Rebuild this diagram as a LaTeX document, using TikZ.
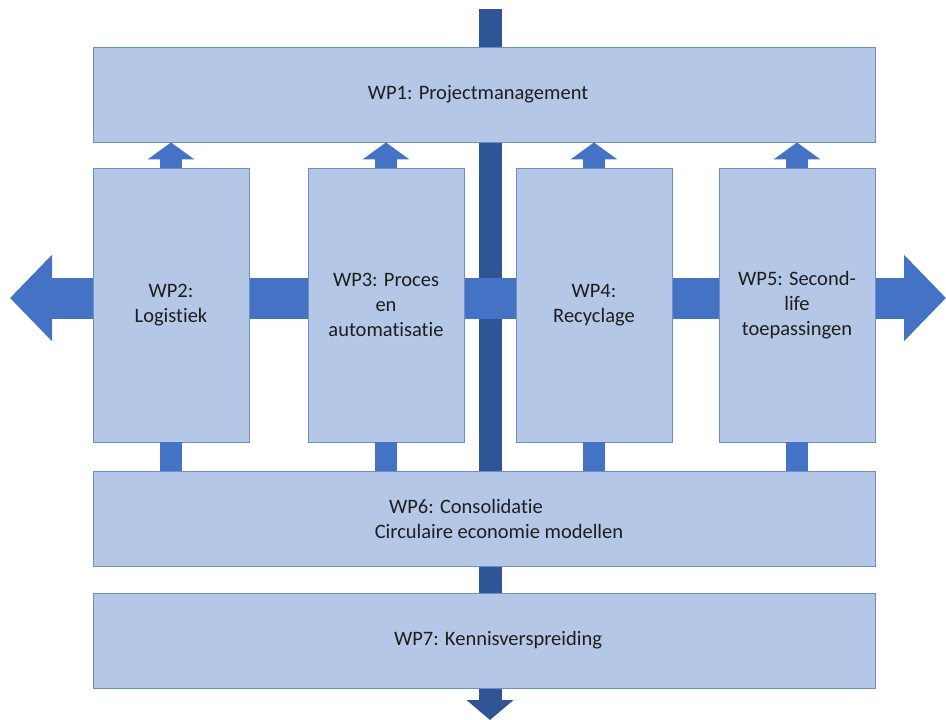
\documentclass[tikz,border=0pt]{standalone}
\usepackage{fontspec}
\setmainfont{Carlito}[RawFeature={-liga;-clig;-dlig}]
\usetikzlibrary{arrows.meta}
\definecolor{boxfill}{HTML}{B4C7E7}
\definecolor{boxline}{HTML}{6F8DC6}
\definecolor{midblue}{HTML}{4472C4}
\definecolor{darkblue}{HTML}{2F5597}
\definecolor{txt}{HTML}{1E1E1E}

\begin{document}
\begin{tikzpicture}[x=1pt,y=-1pt,
  wp/.style={draw=boxline,line width=0.9pt,fill=boxfill,text=txt,
    font=\fontsize{20.5}{25}\selectfont,align=center,inner sep=0pt},
  widebox/.style={wp,minimum width=782pt,minimum height=95pt},
  tallbox/.style={wp,minimum width=156pt,minimum height=274pt},
  spine/.style={draw=darkblue,line width=23pt,-{Triangle[width=46pt,length=20pt]}},
  crossbar/.style={draw=midblue,line width=41pt,
    {Triangle[width=84pt,length=42pt]}-{Triangle[width=84pt,length=42pt]}},
  uparrow/.style={draw=midblue,line width=22pt,-{Triangle[width=46pt,length=17pt]}},
  stub/.style={draw=midblue,line width=22pt}]
  \useasboundingbox (0,0) rectangle (946,720);
  % backbone and cross arrow
  \coordinate (top) at (490,9);
  \coordinate (bottom) at (490,720);
  \coordinate (west) at (10,298);
  \coordinate (east) at (946,298);
  \draw[spine] (top) -- (bottom);
  \draw[crossbar] (west) -- (east);
  % work packages
  \node[widebox] (wp1) at (484,94.5) {\hspace*{-12pt}WP1: Projectmanagement};
  \node[tallbox] (wp2) at (171,305) {WP2:\\Logistiek};
  \node[tallbox] (wp3) at (386,305) {WP3: Proces\\en\\automatisatie};
  \node[tallbox] (wp4) at (594,305) {WP4:\\Recyclage};
  \node[tallbox] (wp5) at (797,305) {WP5: Second-\\life\\toepassingen};
  \node[widebox] (wp6) at (484,518.5) {\hspace*{-36pt}WP6: Consolidatie\\\hspace*{30pt}Circulaire economie modellen};
  \node[widebox] (wp7) at (484,640.5) {\hspace*{28pt}WP7: Kennisverspreiding};
  % links to WP1
  \draw[uparrow] (wp2.north) -- (wp2.north |- wp1.south);
  \draw[uparrow] (wp3.north) -- (wp3.north |- wp1.south);
  \draw[uparrow] (wp4.north) -- (wp4.north |- wp1.south);
  \draw[uparrow] (wp5.north) -- (wp5.north |- wp1.south);
  % links to WP6
  \draw[stub] (wp2.south) -- (wp2.south |- wp6.north);
  \draw[stub] (wp3.south) -- (wp3.south |- wp6.north);
  \draw[stub] (wp4.south) -- (wp4.south |- wp6.north);
  \draw[stub] (wp5.south) -- (wp5.south |- wp6.north);
\end{tikzpicture}
\end{document}
